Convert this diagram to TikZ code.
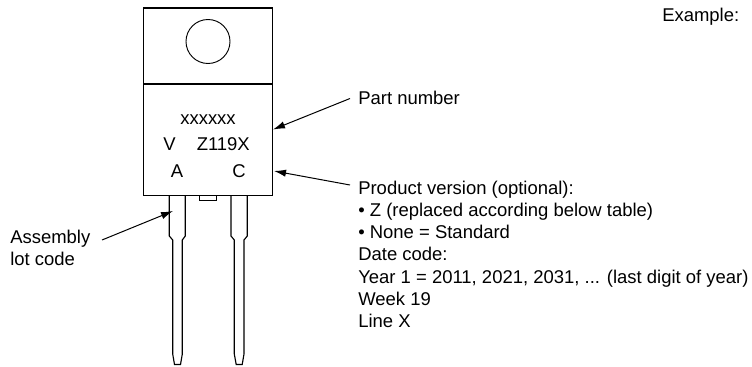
\documentclass[tikz,border=0pt]{standalone}
\usepackage{fontspec}
\setmainfont{Liberation Sans}
\usetikzlibrary{arrows.meta}
\tikzset{
  outline/.style={draw=black,line width=0.85pt,line join=miter},
  lbl/.style={inner sep=0pt,anchor=base west,font=\fontsize{13.85pt}{16pt}\selectfont},
  marking/.style={inner sep=0pt,anchor=base,font=\fontsize{13.85pt}{16pt}\selectfont},
  pointer/.style={draw=black,line width=0.75pt,-{Latex[length=9pt,width=5.5pt]}}
}
\begin{document}
\begin{tikzpicture}[x=0.75pt,y=-0.75pt]
\useasboundingbox (0,0) rectangle (752,367);
% package
\draw[outline] (143.7,8) rectangle (272.3,195.3);
\draw[outline] (143.7,84) -- (272.3,84);
\draw[outline,line width=0.7pt] (208,41.5) circle[radius=22];
% tab
\draw[outline,line width=0.7pt] (199.7,195.3) -- (199.7,200) -- (216.7,200) -- (216.7,195.3);
% leads
\draw[outline] (169.3,195.3) -- (169.3,236) -- (172.7,240) -- (172.7,354) -- (174.5,364.5) -- (180.5,364.5) -- (182.3,354) -- (182.3,240) -- (185.3,236) -- (185.3,195.3);
\draw[outline] (231,195.3) -- (231,236) -- (234.3,240) -- (234.3,354) -- (236.2,364.5) -- (242.2,364.5) -- (244,354) -- (244,240) -- (247.3,236) -- (247.3,195.3);
% marking text
\node[marking] (partcode) at (208,125) {xxxxxx};
\node[lbl] (v) at (163,151) {V};
\node[lbl] (zcode) at (196.5,151) {Z119X};
\node[lbl] (a) at (170.5,177) {A};
\node[lbl] (c) at (232,177) {C};
% labels
\node[lbl] (example) at (662,22) {Example:};
\node[lbl] (part) at (358,104.5) {Part number};
\node[lbl] (l1) at (358,194) {Product version (optional):};
\node[lbl] (l2) at (358,216.2) {• Z (replaced according below table)};
\node[lbl] (l3) at (358,238.5) {• None = Standard};
\node[lbl] (l4) at (358,260.8) {Date code:};
\node[lbl] (l5) at (358,283) {Year 1 = 2011, 2021, 2031, ... (last digit of year)};
\node[lbl] (l6) at (358,305.3) {Week 19};
\node[lbl] (l7) at (358,327.5) {Line X};
\node[lbl] (as1) at (10,243) {Assembly};
\node[lbl] (as2) at (10,265.5) {lot code};
% arrows
\coordinate (t1) at (273,129.5);
\coordinate (t2) at (274,171);
\coordinate (t3) at (173,211);
\coordinate (s1) at (350,98.5);
\coordinate (s2) at (350,185);
\coordinate (s3) at (102,240);
\draw[pointer] (s1) -- (t1);
\draw[pointer] (s2) -- (t2);
\draw[pointer] (s3) -- (t3);
\end{tikzpicture}
\end{document}
